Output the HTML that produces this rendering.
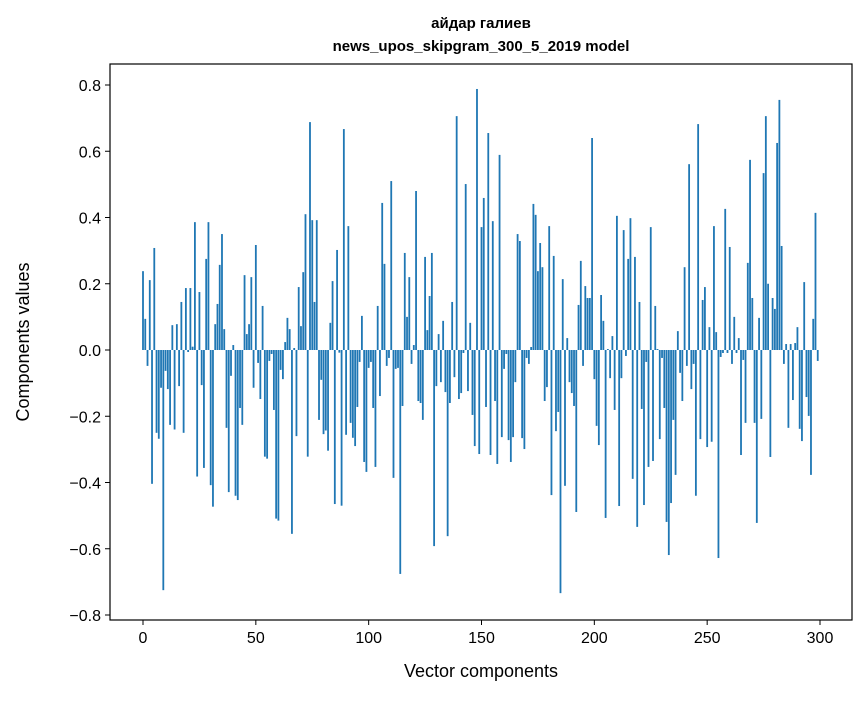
<!DOCTYPE html>
<html><head><meta charset="utf-8"><style>
body{margin:0;background:#fff;}
svg text{font-family:"Liberation Sans","DejaVu Sans",sans-serif;}
</style></head><body>
<svg id="chart" width="867" height="696" xmlns="http://www.w3.org/2000/svg">
<rect width="867" height="696" fill="#fff"/>
<g id="bars"></g>
<g id="axes"></g>
<text x="481" y="28" text-anchor="middle" font-size="15" font-weight="bold">айдар галиев</text>
<text x="481" y="51" text-anchor="middle" font-size="15" font-weight="bold">news_upos_skipgram_300_5_2019 model</text>
<text x="481" y="677" text-anchor="middle" font-size="18">Vector components</text>
<text transform="translate(29,342) rotate(-90)" text-anchor="middle" font-size="18">Components values</text>
</svg>
<script>
const values = [
0.238,0.094,-0.048,0.211,-0.404,0.308,-0.25,-0.268,-0.114,-0.725,
-0.063,-0.118,-0.226,0.075,-0.24,0.078,-0.109,0.145,-0.25,0.187,
-0.006,0.187,0.01,0.386,-0.382,0.175,-0.106,-0.356,0.275,0.386,
-0.408,-0.473,0.078,0.139,0.257,0.35,0.063,-0.235,-0.429,-0.078,
0.015,-0.44,-0.453,-0.175,-0.226,0.226,0.048,0.078,0.22,-0.114,
0.317,-0.039,-0.148,0.133,-0.322,-0.328,-0.033,-0.012,-0.181,-0.509,
-0.515,-0.06,-0.088,0.024,0.097,0.063,-0.555,0.006,-0.26,0.19,
0.072,0.235,0.41,-0.322,0.688,0.392,0.145,0.392,-0.211,-0.09,
-0.254,-0.243,-0.304,0.082,0.208,-0.465,0.302,-0.008,-0.47,0.667,
-0.256,0.374,-0.22,-0.265,-0.29,-0.172,-0.036,0.103,-0.338,-0.368,
-0.054,-0.036,-0.175,-0.353,0.133,-0.139,0.444,0.26,-0.048,-0.024,
0.51,-0.386,-0.057,-0.054,-0.676,-0.169,0.293,0.1,0.22,-0.042,
0.015,0.48,-0.154,-0.16,-0.211,0.281,0.06,0.163,0.293,-0.592,
-0.109,0.048,-0.097,0.088,-0.127,-0.562,-0.16,0.145,-0.082,0.706,
-0.148,-0.13,-0.009,0.501,-0.124,0.082,-0.196,-0.29,0.788,-0.314,
0.371,0.459,-0.172,0.655,-0.317,0.389,-0.154,-0.344,0.589,-0.263,
-0.057,-0.012,-0.272,-0.338,-0.263,-0.097,0.35,0.329,-0.266,-0.299,
-0.024,-0.042,0.009,0.441,0.408,0.238,0.323,0.25,-0.154,-0.112,
0.374,-0.438,0.284,-0.245,-0.187,-0.734,0.214,-0.41,0.036,-0.097,
-0.13,-0.169,-0.489,0.136,0.269,-0.048,0.193,0.157,0.157,0.64,
-0.088,-0.229,-0.287,0.166,0.088,-0.507,0.003,-0.085,0.042,-0.181,
0.405,-0.471,-0.085,0.362,-0.018,0.275,0.398,-0.389,0.281,-0.534,
0.145,-0.178,-0.468,-0.036,-0.353,0.371,-0.335,0.133,0.003,-0.269,
-0.024,-0.175,-0.519,-0.619,-0.462,-0.211,-0.377,0.057,-0.069,-0.154,
0.25,-0.048,0.561,-0.118,-0.042,-0.44,0.682,-0.269,0.151,0.19,
-0.293,0.069,-0.277,0.374,0.054,-0.628,-0.021,-0.009,0.426,-0.009,
0.311,-0.042,0.1,-0.009,0.036,-0.317,-0.03,-0.22,0.263,0.574,
0.157,-0.22,-0.522,0.097,-0.208,0.534,0.706,0.2,-0.323,0.157,
0.124,0.625,0.755,0.314,-0.042,0.018,-0.235,0.018,-0.151,0.021,
0.069,-0.238,-0.275,0.205,-0.142,-0.199,-0.377,0.094,0.414,-0.033
];
const xTicks = [0,50,100,150,200,250,300];
const yTicks = [-0.8,-0.6,-0.4,-0.2,0.0,0.2,0.4,0.6,0.8];
const yTickLabels = ["\u22120.8","\u22120.6","\u22120.4","\u22120.2","0.0","0.2","0.4","0.6","0.8"];

const L=110,R=852,T=64,B=620;
const x = v => 143 + v*(677/300);
const y = v => 350 - v*331.25;
const NS="http://www.w3.org/2000/svg";
const bars=document.getElementById('bars');
const bw = 0.8*(677/300);
values.forEach((v,i)=>{
  const r=document.createElementNS(NS,'rect');
  r.setAttribute('x',x(i)-bw/2);
  r.setAttribute('y',Math.min(y(v),y(0)));
  r.setAttribute('width',bw);
  r.setAttribute('height',Math.abs(y(v)-y(0)));
  r.setAttribute('fill','#1f77b4');
  
  
  bars.appendChild(r);
});
const axes=document.getElementById('axes');
const frame=document.createElementNS(NS,'rect');
frame.setAttribute('x',L);frame.setAttribute('y',T);frame.setAttribute('width',R-L);frame.setAttribute('height',B-T);
frame.setAttribute('fill','none');frame.setAttribute('stroke','#000');frame.setAttribute('stroke-width','1.2');


axes.appendChild(frame);
xTicks.forEach(t=>{
  const l=document.createElementNS(NS,'line');
  l.setAttribute('x1',x(t));l.setAttribute('x2',x(t));l.setAttribute('y1',B);l.setAttribute('y2',B+5);l.setAttribute('stroke','#000');
  
  
  axes.appendChild(l);
  const s=document.createElementNS(NS,'text');
  s.setAttribute('x',x(t));s.setAttribute('y',B+23);s.setAttribute('text-anchor','middle');s.setAttribute('font-size','16');
  s.textContent=t;
  
  
  axes.appendChild(s);
});
yTicks.forEach((t,i)=>{
  const l=document.createElementNS(NS,'line');
  l.setAttribute('x1',L-5);l.setAttribute('x2',L);l.setAttribute('y1',y(t));l.setAttribute('y2',y(t));l.setAttribute('stroke','#000');
  
  
  axes.appendChild(l);
  const s=document.createElementNS(NS,'text');
  s.setAttribute('x',L-9);s.setAttribute('y',y(t)+6);s.setAttribute('text-anchor','end');s.setAttribute('font-size','16');
  s.textContent=yTickLabels[i];
  
  
  axes.appendChild(s);
});
</script>
</body></html>
